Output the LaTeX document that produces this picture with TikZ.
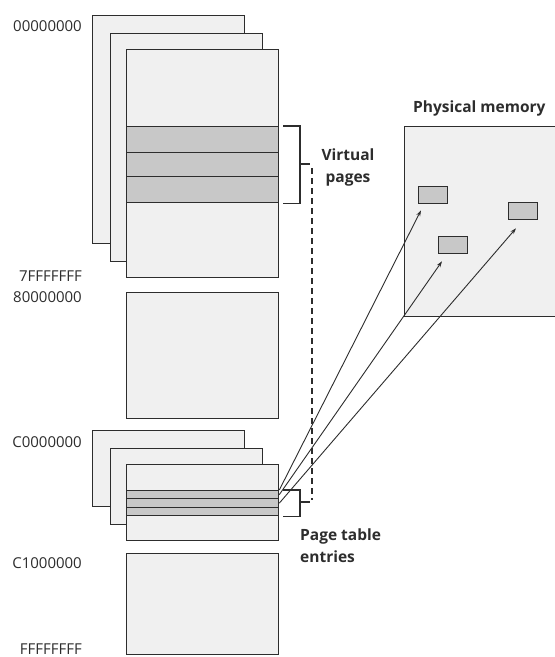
\documentclass[tikz,border=0pt]{standalone}
\usepackage{fontspec}
\setmainfont{Open Sans}
\usetikzlibrary{positioning,arrows.meta}
\definecolor{sheetgray}{RGB}{240,240,240}
\definecolor{bandgray}{RGB}{200,200,200}
\definecolor{edgegray}{RGB}{45,45,45}

\begin{document}
\begin{tikzpicture}[
    x=1pt, y=-1pt,
    sheet/.style={rectangle, draw=edgegray, fill=sheetgray, line width=1.3pt,
                  inner sep=0pt, anchor=north west, minimum width=152pt},
    band/.style={rectangle, draw=edgegray, fill=bandgray, line width=1.3pt,
                 inner sep=0pt, anchor=north west, minimum width=152pt},
    slot/.style={rectangle, draw=edgegray, fill=bandgray, line width=1.3pt,
                 inner sep=0pt, anchor=north west, minimum width=29pt, minimum height=17pt},
    brace/.style={draw=edgegray, line width=1.2pt},
    link/.style={draw=edgegray, line width=0.9pt, -{Stealth[length=6pt,width=4pt]}},
    addr/.style={anchor=east, inner sep=0pt, text=edgegray,
                 font=\fontsize{15}{15}\selectfont},
    caption/.style={inner sep=0pt, text=edgegray, font=\fontsize{15.5}{22}\selectfont\bfseries}
]
\useasboundingbox[fill=white] (0,0) rectangle (555,657);

% user space, three processes
\node[sheet, minimum height=228pt] (us1) at (92,15) {};
\node[sheet, minimum height=228pt] (us2) at (110,33) {};
\node[sheet, minimum height=228pt] (us3) at (126,49) {};
\node[band, minimum height=26pt] (vp1) at (126,126) {};
\node[band, minimum height=24pt] (vp2) at (126,152) {};
\node[band, minimum height=26pt] (vp3) at (126,176) {};

% system space
\node[sheet, minimum height=126pt] (ss) at (126,292) {};

% page tables
\node[sheet, minimum height=76pt] (pt1) at (92,430) {};
\node[sheet, minimum height=76pt] (pt2) at (110,448) {};
\node[sheet, minimum height=76pt] (pt3) at (126,464) {};
\node[band, minimum height=8pt] (pte1) at (126,490) {};
\node[band, minimum height=9pt] (pte2) at (126,498) {};
\node[band, minimum height=8pt] (pte3) at (126,507) {};

\node[sheet, minimum height=101pt] (hs) at (126,553) {};

% addresses
\node[addr] (a0) at (82,26) {00000000};
\node[addr] (a1) at (82,276) {7FFFFFFF};
\node[addr] (a2) at (82,297) {80000000};
\node[addr] (a3) at (82,442) {C0000000};
\node[addr] (a4) at (82,563) {C1000000};
\node[addr] (a5) at (82,649) {FFFFFFFF};

% physical memory
\node[sheet, minimum width=170pt, minimum height=190pt] (pm) at (404,126) {};
\node[caption, anchor=south west] (pmlabel) at (413,116) {Physical memory};
\node[slot] (pp1) at (418,186) {};
\node[slot] (pp2) at (438,236) {};
\node[slot] (pp3) at (508,202) {};

% brackets
\coordinate (vpmid) at (310,164);
\coordinate (ptemid) at (310,502);
\draw[brace] ([xshift=4pt]vp1.north east) -| (300,164) |- ([xshift=4pt]vp3.south east);
\draw[brace] (300,164) -- (vpmid);
\draw[brace] ([xshift=4pt]pte1.north east) -| (300,502) |- ([xshift=4pt]pte3.south east);
\draw[brace] (300,502) -- (ptemid);
\draw[edgegray, line width=1.2pt, dash pattern=on 6pt off 4pt] (312,168) -- (312,500);

\node[caption, align=center] (vplabel) at (348,167) {Virtual\\pages};
\node[caption, align=left, anchor=north west] (ptelabel) at (300,529) {Page table\\entries};

% mappings
\draw[link] (pte1.north east) -- ([xshift=3pt,yshift=-6pt]pp1.south west);
\draw[link] (pte1.east) -- ([xshift=4pt,yshift=-7pt]pp2.south west);
\draw[link] (pte2.east) -- ([xshift=8pt,yshift=-8pt]pp3.south west);
\end{tikzpicture}
\end{document}
